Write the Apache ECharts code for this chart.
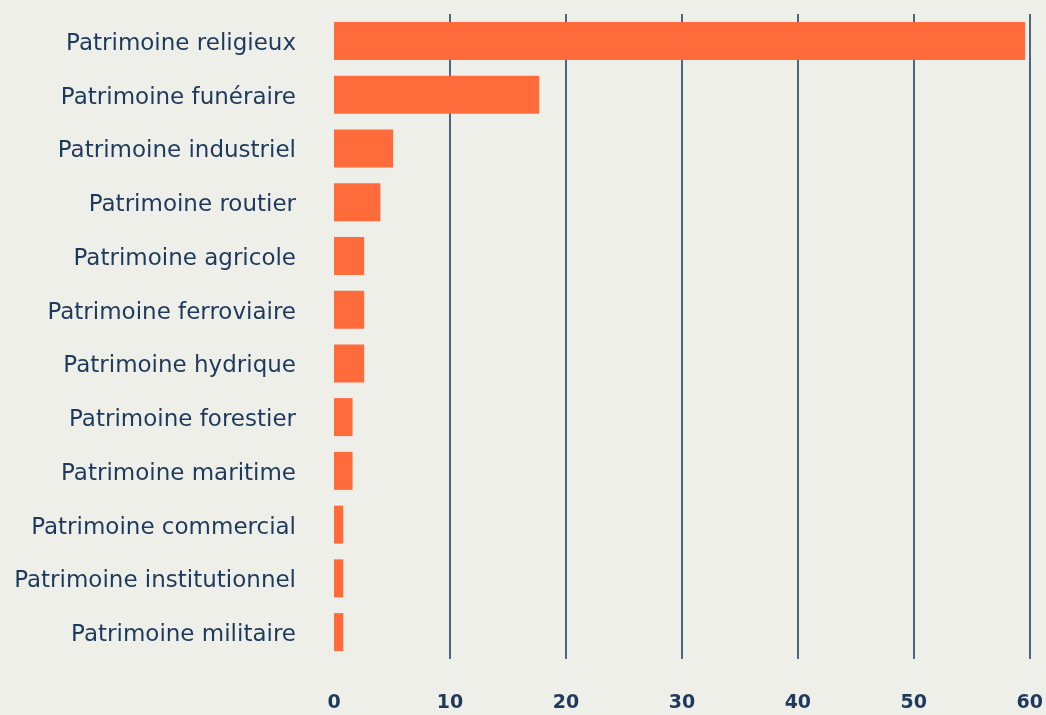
<!DOCTYPE html>
<html><head><meta charset="utf-8">
<script src="https://cdn.jsdelivr.net/npm/echarts@6/dist/echarts.min.js"></script>
<style>html,body{margin:0;padding:0;background:#efefea;}#c{width:1046px;height:715px;}</style>
</head><body><div id="c"></div>
<script>
const categories = ["Patrimoine religieux","Patrimoine funéraire","Patrimoine industriel","Patrimoine routier","Patrimoine agricole","Patrimoine ferroviaire","Patrimoine hydrique","Patrimoine forestier","Patrimoine maritime","Patrimoine commercial","Patrimoine institutionnel","Patrimoine militaire"];
const values = [59.6, 17.7, 5.1, 4.0, 2.6, 2.6, 2.6, 1.6, 1.6, 0.8, 0.8, 0.8];
const xTicks = [0, 10, 20, 30, 40, 50, 60];

const chart = echarts.init(document.getElementById('c'), null, {renderer:'canvas'});
chart.setOption({
  backgroundColor: '#efefea',
  animation: false,
  grid: {left: 334, right: 13, top: 14, bottom: 56, containLabel: false},
  xAxis: {
    type: 'value', min: xTicks[0], max: xTicks[xTicks.length-1], interval: 10,
    axisLine: {show: false}, axisTick: {show: false},
    splitLine: {show: true, showMinLine: false, lineStyle: {color: '#1a3658', width: 1.5}},
    axisLabel: {margin: 35, color: '#1d3a5c', fontFamily: 'DejaVu Sans', fontWeight: 'bold', fontSize: 19}
  },
  yAxis: {
    type: 'category', data: categories, inverse: true,
    axisLine: {show: false}, axisTick: {show: false},
    axisLabel: {
      margin: 38, color: '#1d3a5c', fontFamily: 'DejaVu Sans', fontSize: 23,
      formatter: function (v) { return '{t|' + v + '}'; },
      rich: {t: {color: '#1d3a5c', fontFamily: 'DejaVu Sans', fontSize: 23, padding: [6, 0, 0, 0]}}
    }
  },
  series: [{
    type: 'bar', data: values, barWidth: 38,
    itemStyle: {color: '#ff6b3b'}
  }]
});
</script></body></html>
